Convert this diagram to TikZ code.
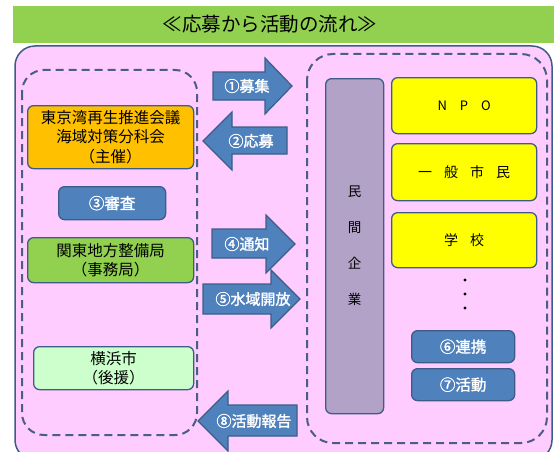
\documentclass[tikz,border=0pt]{standalone}
\usepackage{fontspec}
\setmainfont{Noto Sans CJK JP}[AutoFakeBold=1.6]

\definecolor{titlegreen}{HTML}{92D050}
\definecolor{bgpink}{HTML}{FFCCFF}
\definecolor{edgeblue}{HTML}{3E5C88}
\definecolor{dashblue}{HTML}{4A5D85}
\definecolor{orgfill}{HTML}{FFC000}
\definecolor{stepblue}{HTML}{4F81BD}
\definecolor{officegreen}{HTML}{92D050}
\definecolor{palegreen}{HTML}{CCFFCC}
\definecolor{purplefill}{HTML}{B3A2C7}
\definecolor{npoyellow}{HTML}{FFFF00}

\newcommand\jpsize[2]{\fontsize{#1}{#2}\selectfont}

\begin{document}
\begin{tikzpicture}[x=1pt,y=-1pt,
  box/.style={draw=edgeblue, line width=1.3pt, rounded corners=6pt, align=center,
    inner sep=0pt, anchor=north west, font=\jpsize{15.5}{19.5}},
  stepbox/.style={box, fill=stepblue, text=white, font=\jpsize{15.5}{19.5}\bfseries},
  blockarrow/.style={fill=stepblue, draw=edgeblue, line width=1.2pt, line join=miter},
  arrowtext/.style={text=white, inner sep=0pt, font=\jpsize{15}{18}\bfseries},
  groupline/.style={draw=dashblue, line width=2pt, dash pattern=on 8pt off 5pt}]
\useasboundingbox (0,0) rectangle (554,452);
\clip (0,0) rectangle (554,452);

% title bar
\fill[titlegreen] (13,6) rectangle (554,43);
\node[font=\jpsize{19.5}{22}] (title) at (270,24) {≪応募から活動の流れ≫};

% pink frame and the two dashed groups
\draw[edgeblue, line width=1.5pt, fill=bgpink, rounded corners=20pt] (15,46) rectangle (552,460);
\draw[groupline, rounded corners=22pt] (22,70) rectangle (197,435);
\draw[groupline, rounded corners=26pt] (307,54) rectangle (547,443);

% left side
\node[box, fill=orgfill, minimum width=166, minimum height=63] (shusai) at (27,105)
  {東京湾再生推進会議\\海域対策分科会\\（主催）};
\node[stepbox, minimum width=107, minimum height=33] (shinsa) at (58,186) {③審査};
\node[box, fill=officegreen, minimum width=166, minimum height=45] (jimukyoku) at (27,237)
  {関東地方整備局\\（事務局）};
\node[box, fill=palegreen, minimum width=160, minimum height=43] (koen) at (33,346)
  {横浜市\\（後援）};

% right side
\node[box, fill=purplefill, minimum width=58, minimum height=335, font=\jpsize{13.5}{36}] (kigyo) at (325,78)
  {民\\間\\企\\業};
\node[box, fill=npoyellow, minimum width=145, minimum height=56, font=\jpsize{13}{16}] (npo) at (391,77)
  {N\hspace{13pt}P\hspace{13pt}O};
\node[box, fill=npoyellow, minimum width=145, minimum height=57, font=\jpsize{14}{16}] (shimin) at (391,143)
  {一\hspace{12pt}般\hspace{12pt}市\hspace{12pt}民};
\node[box, fill=npoyellow, minimum width=145, minimum height=55, font=\jpsize{14}{16}] (gakko) at (391,212)
  {学\hspace{12pt}校};
\foreach \y in {280,294,308}{% the dots below the last group
  \fill (465,\y) circle (1.7);}
\node[stepbox, minimum width=103, minimum height=32] (renkei) at (411,330) {⑥連携};
\node[stepbox, minimum width=103, minimum height=32] (katsudo) at (411,368) {⑦活動};

% block arrows between the groups
\draw[blockarrow] (213,72) -- (265,72) -- (265,58) -- (292,86) -- (265,114) -- (265,100) -- (213,100) -- cycle;
\node[arrowtext] (boshu) at (247,86) {①募集};
\draw[blockarrow] (287,127) -- (232,127) -- (232,112) -- (203,141) -- (232,170) -- (232,154) -- (287,154) -- cycle;
\node[arrowtext] (oubo) at (251,141) {②応募};
\draw[blockarrow] (212,229) -- (266,229) -- (266,215) -- (295,244) -- (266,273) -- (266,258) -- (212,258) -- cycle;
\node[arrowtext] (tsuchi) at (247,244) {④通知};
\draw[blockarrow] (203,284) -- (271,284) -- (271,270) -- (300,299) -- (271,328) -- (271,314) -- (203,314) -- cycle;
\node[arrowtext] (kaiho) at (253,299) {⑤水域開放};
\draw[blockarrow] (297,405) -- (228,405) -- (228,391) -- (198,421) -- (228,451) -- (228,436) -- (297,436) -- cycle;
\node[arrowtext] (hokoku) at (254,421) {⑧活動報告};
\end{tikzpicture}
\end{document}
